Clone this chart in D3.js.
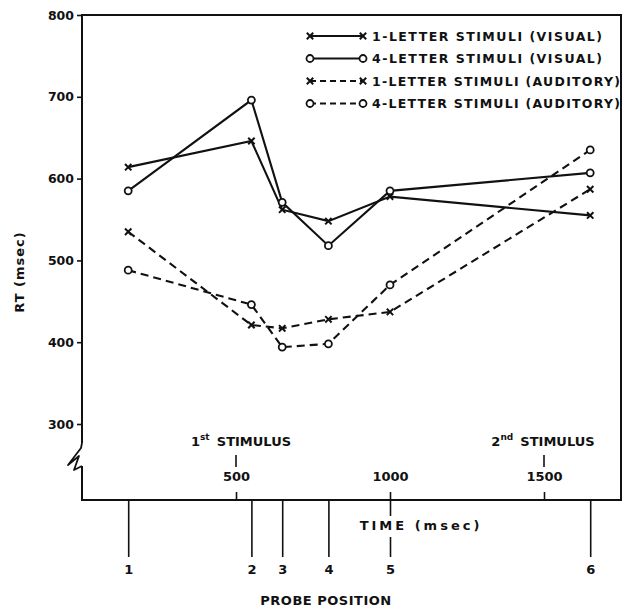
<!DOCTYPE html>
<html>
<head>
<meta charset="utf-8">
<script src="https://cdn.jsdelivr.net/npm/d3@7/dist/d3.min.js"></script>
<style>
  html, body { margin: 0; padding: 0; background: #fff; }
  svg text { font-family: 'DejaVu Sans', sans-serif; font-weight: bold; fill: #111; }
</style>
</head>
<body>
<div id="chart"></div>
<script>
/* ── DATA ── */
const probeTimes   = [150, 550, 650, 800, 1000, 1650];   // msec
const probeLabels  = ['1', '2', '3', '4', '5', '6'];
const oneVisual    = [614, 646, 562, 548, 578, 555];
const fourVisual   = [585, 696, 571, 518, 585, 607];
const oneAuditory  = [535, 421, 417, 428, 437, 587];
const fourAuditory = [488, 446, 394, 398, 470, 635];
const yTicks       = [300, 400, 500, 600, 700, 800];
const timeTicks    = [500, 1000, 1500];
const legendLabels = [
  '1-LETTER STIMULI  (VISUAL)',
  '4-LETTER STIMULI  (VISUAL)',
  '1-LETTER STIMULI (AUDITORY)',
  '4-LETTER STIMULI (AUDITORY)',
];

/* ── LAYOUT ── */
const W = 630, H = 609;
const LEFT = 82, RIGHT = 621, TOP = 15, BOTTOM = 500;
const INK = '#111';

const svg = d3.select('#chart').append('svg').attr('width', W).attr('height', H);

const x = d3.scaleLinear().domain([0, 1750]).range([LEFT, RIGHT]);
const y = d3.scaleLinear().domain([300, 800]).range([424, TOP]);

/* ── FRAME (with axis break on the left) ── */
svg.append('path')
  .attr('d', `M${LEFT},443 L${LEFT},${TOP} L${RIGHT},${TOP} L${RIGHT},${BOTTOM} L${LEFT},${BOTTOM} L${LEFT},466`)
  .attr('fill', 'none').attr('stroke', INK).attr('stroke-width', 2);
svg.append('path')
  .attr('d', `M${LEFT},443 L${LEFT - 1},448 L${LEFT - 14},465 L${LEFT - 3},456 L${LEFT - 8},470 L${LEFT},466`)
  .attr('fill', 'none').attr('stroke', INK).attr('stroke-width', 1.8).attr('stroke-linejoin', 'round');

/* ── Y AXIS ── */
svg.append('g').attr('transform', `translate(${LEFT},0)`)
  .call(d3.axisLeft(y).tickValues(yTicks).tickSize(5).tickPadding(3))
  .call(ax => ax.select('.domain').remove())
  .call(ax => ax.selectAll('line').attr('stroke', INK).attr('stroke-width', 1.6))
  .call(ax => ax.selectAll('text').style('font-size', '12.5px').attr('fill', INK));

svg.append('text')
  .attr('transform', `translate(24,272) rotate(-90)`)
  .attr('text-anchor', 'middle').style('font-size', '13px').style('letter-spacing', '1px')
  .text('RT (msec)');

/* ── TIME AXIS (inside, upward) ── */
svg.append('g').attr('transform', `translate(0,${BOTTOM})`)
  .call(d3.axisTop(x).tickValues(timeTicks).tickSize(8).tickPadding(11).tickFormat(d3.format('d')))
  .call(ax => ax.select('.domain').remove())
  .call(ax => ax.selectAll('line').attr('stroke', INK).attr('stroke-width', 1.6))
  .call(ax => ax.selectAll('text').style('font-size', '13px').attr('fill', INK));

/* stimulus markers */
[[500, '1', 'st'], [1500, '2', 'nd']].forEach(([t, num, sup]) => {
  svg.append('line')
    .attr('x1', x(t)).attr('x2', x(t)).attr('y1', 455).attr('y2', 467)
    .attr('stroke', INK).attr('stroke-width', 1.6);
  const txt = svg.append('text')
    .attr('x', x(t) + (t === 500 ? 5 : -1)).attr('y', 446)
    .attr('text-anchor', 'middle').style('font-size', '13px');
  txt.append('tspan').text(num);
  txt.append('tspan').attr('dy', -6).style('font-size', '9px').text(sup);
  txt.append('tspan').attr('dy', 6).text('\u2009 STIMULUS');
});

/* ── PROBE AXIS (outside, downward) ── */
svg.append('g').attr('transform', `translate(0,${BOTTOM})`)
  .call(d3.axisBottom(x).tickValues(probeTimes).tickSize(57).tickPadding(8)
    .tickFormat((_, i) => probeLabels[i]))
  .call(ax => ax.select('.domain').remove())
  .call(ax => ax.selectAll('line').attr('stroke', INK).attr('stroke-width', 1.6))
  .call(ax => ax.selectAll('text').style('font-size', '13px').attr('fill', INK));

/* time title sits on a white patch that breaks the probe-5 tick */
const timeTitle = svg.append('text')
  .attr('x', 421).attr('y', 530).attr('text-anchor', 'middle')
  .style('font-size', '13px').style('letter-spacing', '3px')
  .text('TIME (msec)');
const bb = timeTitle.node().getBBox();
svg.append('rect')
  .attr('x', bb.x - 4).attr('y', bb.y - 2).attr('width', bb.width + 8).attr('height', bb.height + 6)
  .attr('fill', '#fff');
timeTitle.raise();

svg.append('text')
  .attr('x', 326).attr('y', 605).attr('text-anchor', 'middle')
  .style('font-size', '13px').style('letter-spacing', '0.5px')
  .text('PROBE POSITION');

/* ── SERIES ── */
const series = [
  { vals: oneVisual,    mark: 'x', dash: null },
  { vals: fourVisual,   mark: 'o', dash: null },
  { vals: oneAuditory,  mark: 'x', dash: '8,5' },
  { vals: fourAuditory, mark: 'o', dash: '8,5' },
];

function drawMark(g, mark, cx, cy) {
  if (mark === 'x') {
    const s = 3.2;
    g.append('path')
      .attr('d', `M${cx - s},${cy - s}L${cx + s},${cy + s}M${cx - s},${cy + s}L${cx + s},${cy - s}`)
      .attr('stroke', INK).attr('stroke-width', 2).attr('fill', 'none');
  } else {
    g.append('circle').attr('cx', cx).attr('cy', cy).attr('r', 3.5)
      .attr('fill', '#fff').attr('stroke', INK).attr('stroke-width', 1.8);
  }
}

const line = d3.line().x((_, i) => x(probeTimes[i])).y(d => y(d));
const plot = svg.append('g');

series.forEach(s => {
  plot.append('path').datum(s.vals)
    .attr('d', line).attr('fill', 'none').attr('stroke', INK)
    .attr('stroke-width', 2.1).attr('stroke-dasharray', s.dash);
});
series.forEach(s => {
  s.vals.forEach((v, i) => drawMark(plot, s.mark, x(probeTimes[i]), y(v)));
});

/* ── LEGEND ── */
const legendRows = [36, 58.5, 81, 103.5];
const legend = svg.append('g');
series.forEach((s, i) => {
  const ly = legendRows[i];
  legend.append('line')
    .attr('x1', 310).attr('x2', 363).attr('y1', ly).attr('y2', ly)
    .attr('stroke', INK).attr('stroke-width', 2).attr('stroke-dasharray', s.dash ? '6,4' : null);
  drawMark(legend, s.mark, 310, ly);
  drawMark(legend, s.mark, 363, ly);
  legend.append('text')
    .attr('x', 372).attr('y', ly + 4.5)
    .attr('textLength', i < 2 ? 230 : 248).attr('lengthAdjust', 'spacing')
    .style('font-size', '12.5px')
    .text(legendLabels[i]);
});
</script>
</body>
</html>
